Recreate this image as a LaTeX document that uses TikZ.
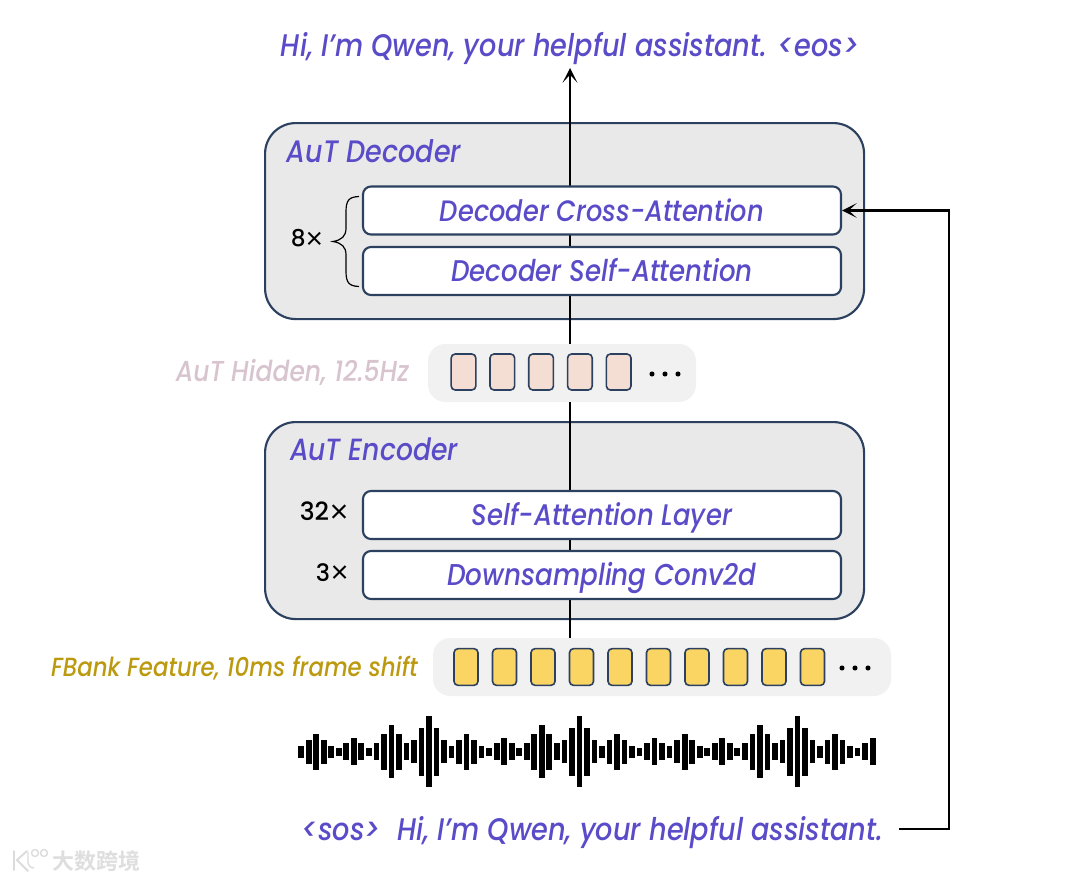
\documentclass[tikz,border=0pt]{standalone}
\usepackage{fontspec}
\usepackage{graphicx}
\setmainfont{Poppins Medium}[ItalicFont=Poppins Medium Italic]
\newfontfamily\lightfont{Poppins Light}
\newfontfamily\cjkfont{Noto Sans CJK SC Bold}
\usetikzlibrary{arrows.meta}
\definecolor{navy}{HTML}{2C4160}
\definecolor{panel}{HTML}{E9E9E9}
\definecolor{band}{HTML}{F1F1F1}
\definecolor{violet}{HTML}{5A4CC8}
\definecolor{peach}{HTML}{F4DDD3}
\definecolor{gold}{HTML}{FBD564}
\definecolor{goldtext}{HTML}{BC9A10}
\definecolor{mauve}{HTML}{D8C4CE}
\newcommand{\fitw}[2]{\raisebox{-2.6pt}[\height][\depth]{\scalebox{1}[1.15]{\resizebox{#1pt}{!}{\itshape\strut #2}}}}
\newcommand{\fitu}[2]{\resizebox{#1pt}{!}{#2{\lightfont\raisebox{-0.16em}{\scalebox{1.35}{×}}}}}
\pgfdeclarelayer{under}
\pgfdeclarelayer{wires}
\pgfsetlayers{under,wires,main}
\tikzset{
  x=0.75pt,y=-0.75pt,
  outerbox/.style={draw=navy,line width=1.6pt,fill=panel,rounded corners=23pt,minimum width=449.25pt,anchor=north west,inner sep=0pt},
  innerbox/.style={draw=navy,line width=1.6pt,fill=white,rounded corners=6pt,minimum width=358.5pt,minimum height=36pt,inner sep=0pt,text=violet},
  bandbox/.style={fill=band,rounded corners=13pt,minimum height=43.5pt,inner sep=0pt},
  cellpeach/.style={draw=navy,line width=1.2pt,fill=peach,rounded corners=3pt,minimum width=18.5pt,minimum height=27pt,inner sep=0pt},
  cellgold/.style={draw=navy,line width=1.2pt,fill=gold,rounded corners=3pt,minimum width=18pt,minimum height=27.5pt,inner sep=0pt},
  wire/.style={line width=2.2pt,black},
  arrowwire/.style={wire,-{Stealth[length=11pt,width=11pt,inset=6pt]}},
  label/.style={inner sep=0pt,text=violet},
  wavebar/.style={fill=black,draw=none},
}
\begin{document}
\begin{tikzpicture}
\useasboundingbox (0,0) rectangle (1080,881);
\begin{pgfonlayer}{under}
\fill[white] (0,0) rectangle (1080,881);
\node[outerbox,minimum height=147pt] (dec) at (264,122) {};
\node[outerbox,minimum height=147.75pt] (enc) at (264,421) {};
\node[bandbox,minimum width=201pt] (hid) at (562,373) {};
\node[bandbox,minimum width=343.5pt] (fb) at (662,667) {};
\end{pgfonlayer}

\node[label] (top) at (570,46) {\fitw{433.5}{Hi, I’m Qwen, your helpful assistant. <eos>}};
\node[label] (bot) at (592.5,830) {\fitw{436}{<sos>\ \ Hi, I’m Qwen, your helpful assistant.}};
\node[label] (dect) at (374,152) {\fitw{130.5}{AuT Decoder}};
\node[label] (enct) at (374,450) {\fitw{126}{AuT Encoder}};

\node[innerbox] (cross) at (602,210.5) {\fitw{243}{Decoder Cross-Attention}};
\node[innerbox] (self) at (602,271) {\fitw{226}{Decoder Self-Attention}};
\node[innerbox] (sal) at (602,515) {\fitw{195}{Self-Attention Layer}};
\node[innerbox] (down) at (602,575) {\fitw{232}{Downsampling Conv2d}};

\node[label,text=black] (n8) at (307.5,240) {\fitu{25}{8}};
\node[label,text=black] (n32) at (324.5,513) {\fitu{37}{32}};
\node[label,text=black] (n3) at (332.5,574) {\fitu{25}{3}};

\node[label,text=mauve] (hidl) at (292.5,371) {\fitw{175}{AuT Hidden, 12.5Hz}};
\node[label,text=goldtext] (fbl) at (234.5,667) {\fitw{275}{FBank Feature, 10ms frame shift}};

\foreach \i in {0,...,4} \node[cellpeach] (h\i) at ({463.5+38.8*\i},372) {};
\foreach \i in {0,...,9} \node[cellgold] (f\i) at ({466+38.5*\i},667) {};
\foreach \i in {0,1,2} {
  \fill[black] ({652+13*\i},374) circle (1.9pt);
  \fill[black] ({842+13*\i},668) circle (1.9pt);
}

% connectors
\begin{pgfonlayer}{wires}
\draw[wire] (570,638) coordinate (fbt) -- (570,402) coordinate (hidb);
\draw[arrowwire] (570,344) coordinate (hidt) -- (570,68) coordinate (topb);
\end{pgfonlayer}
\coordinate (botstart) at (899,829);
\draw[arrowwire] (botstart) -| (949,210.5) -- (cross.east);

% brace
\draw[black,line width=0.9pt] (359,196.5) .. controls (349,197) and (346,200) .. (346,212)
  -- (346,228) .. controls (346,236) and (342,240) .. (333,241.5)
  .. controls (342,243) and (346,247) .. (346,255)
  -- (346,271) .. controls (346,283) and (349,286) .. (359,286.5);

% waveform
\foreach[count=\k from 0] \h in {6,12,18,12,6,4,8.7,13.3,8.7,4,8.7,18,26.7,18,8.7,11.7,24,35.7,24,11.7,6,12,18,12,6,4,8.7,13.3,8.7,4,8.7,18,26.7,18,8.7,11.7,24,35.7,24,11.7,6,12,18,12,6,4,8.7,13.3,8.7,6,11.7,18,12,6,4,8.7,13.3,8.7,4,8.7,18,26.7,18,8.7,11.7,24,35.7,24,11.7,6,12,18,12,6,4,8.7,13.3}
  \fill[wavebar] ({298.3+7.52*\k},{751.7-\h}) rectangle ({304+7.52*\k},{751.7+\h});

% watermark
\node[inner sep=0pt,text=black!13] (wm) at (96,861) {\cjkfont\fontsize{16.5}{16.5}\selectfont 大数跨境};
\draw[black!14,line width=1.4pt,line cap=round] (14,851) -- (14,870) (27,851) -- (17,860) -- (28,871);
\draw[black!14,line width=1pt] (35,853) circle (2.6pt) (44,853) circle (2.6pt);
\draw[black!14,line width=1pt] (28,852) -- (28,862) arc (180:90:6);
\end{tikzpicture}
\end{document}
